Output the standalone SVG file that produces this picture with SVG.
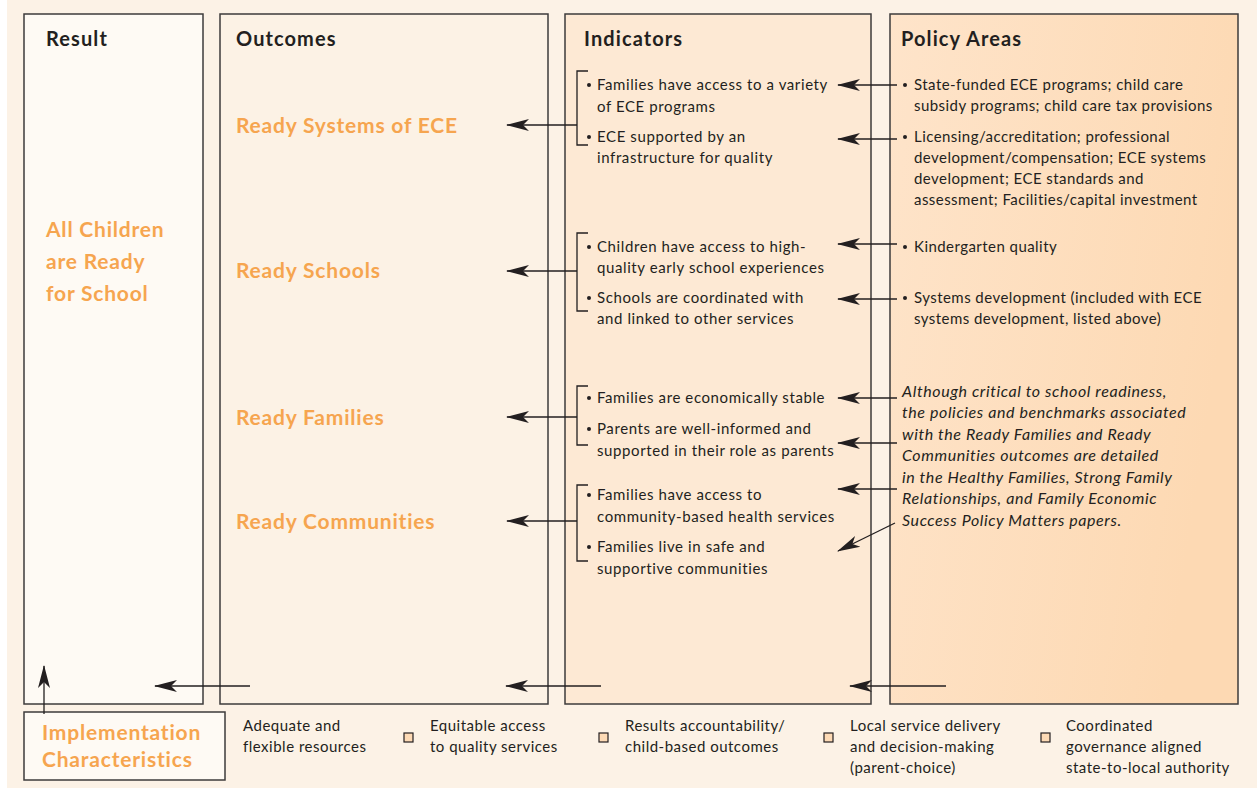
<svg xmlns="http://www.w3.org/2000/svg" width="1257" height="788" viewBox="0 0 1257 788">
  <defs>
    <linearGradient id="policyFill" x1="0" y1="0" x2="1" y2="0.3">
      <stop offset="0" stop-color="#FEE4CA"/>
      <stop offset="1" stop-color="#FDD9B3"/>
    </linearGradient>
    <marker id="head" viewBox="0 0 24 14" refX="22" refY="7" markerWidth="24" markerHeight="14" markerUnits="userSpaceOnUse" orient="auto">
      <path d="M0,1 L23,7 L0,13 L6,7 Z" fill="#231f20"/>
    </marker>
    <style>
      .box { stroke: #3d3b3b; stroke-width: 1.5; }
      .head { font-family: Lato, "Noto Sans", sans-serif; font-weight: 700; font-size: 20px; letter-spacing: 1.1px; fill: #231f20; }
      .out { font-family: Lato, "Noto Sans", sans-serif; font-weight: 700; font-size: 21px; letter-spacing: 0.8px; fill: #F6A54F; }
      .body { font-family: Lato, "Noto Sans", sans-serif; font-size: 15px; letter-spacing: 0.6px; fill: #231f20; }
      .pbody { font-family: Lato, "Noto Sans", sans-serif; font-size: 15px; letter-spacing: 0.45px; fill: #231f20; }
      .ital { font-family: Lato, "Noto Sans", sans-serif; font-style: italic; font-size: 16px; letter-spacing: 0.6px; fill: #231f20; }
      .leg { font-family: Lato, "Noto Sans", sans-serif; font-size: 15px; letter-spacing: 0.5px; fill: #231f20; }
      .wire { stroke: #231f20; stroke-width: 1.3; fill: none; }
      .arr { stroke: #231f20; stroke-width: 1.3; fill: none; marker-end: url(#head); }
      .sq { fill: #FDDAB5; stroke: #231f20; stroke-width: 1.2; }
      .dot { fill: #231f20; }
    </style>
  </defs>

  <!-- page background -->
  <rect x="0" y="0" width="1257" height="788" fill="#FCF2E6"/>
  <rect x="0" y="0" width="7" height="788" fill="#FFFFFF"/>

  <!-- Result column -->
  <g id="result">
    <rect class="box" x="24" y="14" width="179" height="690" fill="#FEFAF4"/>
    <text class="head" x="46" y="46">Result</text>
    <text class="out" x="46" y="237">All Children</text>
    <text class="out" x="46" y="269">are Ready</text>
    <text class="out" x="46" y="301">for School</text>
  </g>

  <!-- Outcomes column -->
  <g id="outcomes">
    <rect class="box" x="220" y="14" width="328" height="690" fill="#FCF2E5"/>
    <text class="head" x="236" y="46">Outcomes</text>
    <text class="out" x="236" y="133">Ready Systems of ECE</text>
    <text class="out" x="236" y="278">Ready Schools</text>
    <text class="out" x="236" y="425">Ready Families</text>
    <text class="out" x="236" y="529">Ready Communities</text>
  </g>

  <!-- Indicators column -->
  <g id="indicators">
    <rect class="box" x="565" y="14" width="306" height="690" fill="#FDE9D4"/>
    <text class="head" x="584" y="46">Indicators</text>
    <g class="body">
      <circle class="dot" cx="589" cy="85" r="2"/>
      <text x="597" y="90">Families have access to a variety</text>
      <text x="597" y="112">of ECE programs</text>
      <circle class="dot" cx="589" cy="137" r="2"/>
      <text x="597" y="142">ECE supported by an</text>
      <text x="597" y="163">infrastructure for quality</text>
      <circle class="dot" cx="589" cy="247" r="2"/>
      <text x="597" y="252">Children have access to high-</text>
      <text x="597" y="273">quality early school experiences</text>
      <circle class="dot" cx="589" cy="298" r="2"/>
      <text x="597" y="303">Schools are coordinated with</text>
      <text x="597" y="324">and linked to other services</text>
      <circle class="dot" cx="589" cy="398" r="2"/>
      <text x="597" y="403">Families are economically stable</text>
      <circle class="dot" cx="589" cy="429" r="2"/>
      <text x="597" y="434">Parents are well-informed and</text>
      <text x="597" y="456">supported in their role as parents</text>
      <circle class="dot" cx="589" cy="495" r="2"/>
      <text x="597" y="500">Families have access to</text>
      <text x="597" y="522">community-based health services</text>
      <circle class="dot" cx="589" cy="547" r="2"/>
      <text x="597" y="552">Families live in safe and</text>
      <text x="597" y="574">supportive communities</text>
    </g>
  </g>

  <!-- Policy Areas column -->
  <g id="policy-areas">
    <rect class="box" x="890" y="14" width="348" height="690" fill="url(#policyFill)"/>
    <text class="head" x="901" y="46">Policy Areas</text>
    <g class="pbody">
      <circle class="dot" cx="905" cy="85" r="2"/>
      <text x="914" y="90">State-funded ECE programs; child care</text>
      <text x="914" y="111">subsidy programs; child care tax provisions</text>
      <circle class="dot" cx="905" cy="137" r="2"/>
      <text x="914" y="142">Licensing/accreditation; professional</text>
      <text x="914" y="163">development/compensation; ECE systems</text>
      <text x="914" y="184">development; ECE standards and</text>
      <text x="914" y="205">assessment; Facilities/capital investment</text>
      <circle class="dot" cx="905" cy="247" r="2"/>
      <text x="914" y="252">Kindergarten quality</text>
      <circle class="dot" cx="905" cy="298" r="2"/>
      <text x="914" y="303">Systems development (included with ECE</text>
      <text x="914" y="324">systems development, listed above)</text>
    </g>
    <g class="ital">
      <text x="902" y="397">Although critical to school readiness,</text>
      <text x="902" y="418">the policies and benchmarks associated</text>
      <text x="902" y="440">with the Ready Families and Ready</text>
      <text x="902" y="461">Communities outcomes are detailed</text>
      <text x="902" y="483">in the Healthy Families, Strong Family</text>
      <text x="902" y="504">Relationships, and Family Economic</text>
      <text x="902" y="526">Success Policy Matters papers.</text>
    </g>
  </g>

  <!-- Implementation characteristics -->
  <g id="implementation">
    <rect class="box" x="24" y="712" width="201" height="68" fill="#FEFAF4"/>
    <text class="out" x="42" y="740">Implementation</text>
    <text class="out" x="42" y="767">Characteristics</text>
  </g>

  <g id="legend">
    <g class="leg">
      <text x="243" y="731">Adequate and</text>
      <text x="243" y="752">flexible resources</text>
      <text x="430" y="731">Equitable access</text>
      <text x="430" y="752">to quality services</text>
      <text x="625" y="731">Results accountability/</text>
      <text x="625" y="752">child-based outcomes</text>
      <text x="850" y="731">Local service delivery</text>
      <text x="850" y="752">and decision-making</text>
      <text x="850" y="773">(parent-choice)</text>
      <text x="1066" y="731">Coordinated</text>
      <text x="1066" y="752">governance aligned</text>
      <text x="1066" y="773">state-to-local authority</text>
    </g>
    <rect class="sq" x="404" y="733" width="9" height="9"/>
    <rect class="sq" x="599" y="733" width="9" height="9"/>
    <rect class="sq" x="824" y="733" width="9" height="9"/>
    <rect class="sq" x="1041" y="733" width="9" height="9"/>
  </g>

  <!-- connectors -->
  <g id="connectors">
    <!-- indicator brackets feeding each outcome -->
    <path class="wire" d="M588,71 H577 V145 H588"/>
    <path class="wire" d="M588,233 H577 V311 H588"/>
    <path class="wire" d="M588,386 H577 V445 H588"/>
    <path class="wire" d="M588,485 H577 V561 H588"/>
    <line class="arr" x1="577" y1="125" x2="507" y2="125"/>
    <line class="arr" x1="577" y1="271" x2="507" y2="271"/>
    <line class="arr" x1="577" y1="417" x2="507" y2="417"/>
    <line class="arr" x1="577" y1="521" x2="507" y2="521"/>

    <!-- policy areas to indicators -->
    <line class="arr" x1="897" y1="85" x2="838" y2="85"/>
    <line class="arr" x1="897" y1="139" x2="838" y2="139"/>
    <line class="arr" x1="897" y1="244" x2="838" y2="244"/>
    <line class="arr" x1="897" y1="299" x2="838" y2="299"/>
    <line class="arr" x1="897" y1="398" x2="838" y2="398"/>
    <line class="arr" x1="897" y1="443" x2="838" y2="443"/>
    <line class="arr" x1="897" y1="489" x2="838" y2="489"/>
    <line class="arr" x1="895" y1="523" x2="838" y2="551"/>

    <!-- bottom flow arrows -->
    <line class="arr" x1="250" y1="686" x2="155" y2="686"/>
    <line class="arr" x1="601" y1="686" x2="506" y2="686"/>
    <line class="arr" x1="946" y1="686" x2="850" y2="686"/>

    <!-- implementation to result -->
    <line class="arr" x1="44" y1="714" x2="44" y2="666"/>
  </g>
</svg>
